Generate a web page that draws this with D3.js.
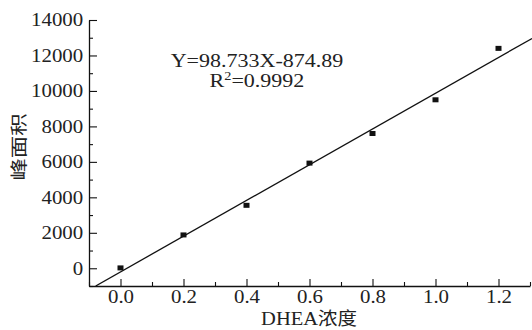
<!DOCTYPE html>
<html><head><meta charset="utf-8">
<script src="https://cdn.jsdelivr.net/npm/d3@7"></script>
<style>body{margin:0;background:#fff}svg{display:block}</style>
</head><body>
<svg id="c" width="532" height="330"></svg>
<script>
const concentrations = [0.0, 0.2, 0.4, 0.6, 0.8, 1.0, 1.2];
const peakAreas = [20, 1880, 3550, 5930, 7600, 9500, 12400];
const xTicks = [0.0, 0.2, 0.4, 0.6, 0.8, 1.0, 1.2];
const yTicks = [0, 2000, 4000, 6000, 8000, 10000, 12000, 14000];
const equationLines = ["Y=98.733X-874.89", "R2=0.9992"];
const xTitle = "DHEA浓度";
const yTitle = "峰面积";

const svg = d3.select("#c");
const x = d3.scaleLinear().domain([-0.1, 1.3]).range([89, 530]);
const y = d3.scaleLinear().domain([-1000, 14000]).range([286, 20]);
const serif = "'Liberation Serif','Times New Roman',serif";
const cjk = "'Noto Sans CJK SC','Liberation Serif',serif";
const SX = 1.16;

// least squares fit from the data
const n = concentrations.length;
const mx = d3.mean(concentrations), my = d3.mean(peakAreas);
let sxy = 0, sxx = 0;
for (let i = 0; i < n; i++) { sxy += (concentrations[i]-mx)*(peakAreas[i]-my); sxx += (concentrations[i]-mx)**2; }
const slope = sxy/sxx, icpt = my - slope*mx;

svg.append("clipPath").attr("id","clip").append("rect")
  .attr("x", 89).attr("y", 20).attr("width", 443).attr("height", 266);

const x0 = (y.domain()[0]-icpt)/slope;
const fitX = [x0, x.invert(532)];
svg.append("path").attr("clip-path","url(#clip)")
  .attr("d", d3.line().x(d=>x(d)).y(d=>y(slope*d+icpt))(fitX))
  .attr("stroke","#111").attr("stroke-width",1.3).attr("fill","none");

// minor ticks
svg.append("g").attr("transform","translate(0,286)")
  .call(d3.axisBottom(x).tickValues(d3.range(-0.1,1.31,0.2)).tickSize(-4).tickSizeOuter(0).tickFormat(""))
  .call(g=>{g.select(".domain").remove(); g.selectAll("line").attr("stroke","#111").attr("stroke-width",1.1);});
svg.append("g").attr("transform","translate(89,0)")
  .call(d3.axisLeft(y).tickValues(d3.range(-1000,14000,2000)).tickSize(-4).tickSizeOuter(0).tickFormat(""))
  .call(g=>{g.select(".domain").remove(); g.selectAll("line").attr("stroke","#111").attr("stroke-width",1.1);});

const xa = svg.append("g").attr("transform","translate(0,286)")
  .call(d3.axisBottom(x).tickValues(xTicks).tickSize(-7).tickSizeOuter(0).tickPadding(4).tickFormat(d3.format(".1f")));
const ya = svg.append("g").attr("transform","translate(89,0)")
  .call(d3.axisLeft(y).tickValues(yTicks).tickSize(-8).tickSizeOuter(0).tickPadding(5).tickFormat(d3.format("d")));
[xa, ya].forEach(a => {
  a.select(".domain").attr("stroke","#111").attr("stroke-width",1.3);
  a.selectAll(".tick line").attr("stroke","#111").attr("stroke-width",1.1);
  a.selectAll(".tick text").attr("font-family", serif).attr("font-size", 18).attr("fill","#222")
    .attr("transform", `scale(${SX},1)`);
});

svg.append("g").selectAll("rect").data(concentrations).join("rect")
  .attr("x", d=>x(d)-3).attr("y",(d,i)=>y(peakAreas[i])-2.5)
  .attr("width",6).attr("height",5).attr("fill","#111");

// equation
const eq = svg.append("g").attr("font-family", serif).attr("font-size", 18.5).attr("fill","#222");
eq.append("text").attr("transform",`translate(257,66.5) scale(1.19,1)`).attr("text-anchor","middle").text(equationLines[0]);
const r2 = eq.append("text").attr("transform",`translate(257,87) scale(1.19,1)`).attr("text-anchor","middle");
r2.append("tspan").text(equationLines[1].slice(0,1));
r2.append("tspan").attr("font-size",12).attr("dy",-7).text(equationLines[1].slice(1,2));
r2.append("tspan").attr("dy",7).text(equationLines[1].slice(2));

svg.append("text").attr("transform",`translate(309,325) scale(1.08,1)`).attr("text-anchor","middle")
  .attr("fill","#222").attr("font-size",19).attr("font-family",serif)
  .selectAll("tspan").data([xTitle.slice(0,4), xTitle.slice(4)]).join("tspan")
  .attr("font-family",(d,i)=>i? cjk : serif).attr("font-size",(d,i)=>i?18:19).text(d=>d);

svg.append("text").attr("transform",`translate(24.5,147) rotate(-90) scale(1.28,1)`).attr("text-anchor","middle")
  .attr("fill","#222").attr("font-size",17.5).attr("font-family",cjk).text(yTitle);
</script>
</body></html>
